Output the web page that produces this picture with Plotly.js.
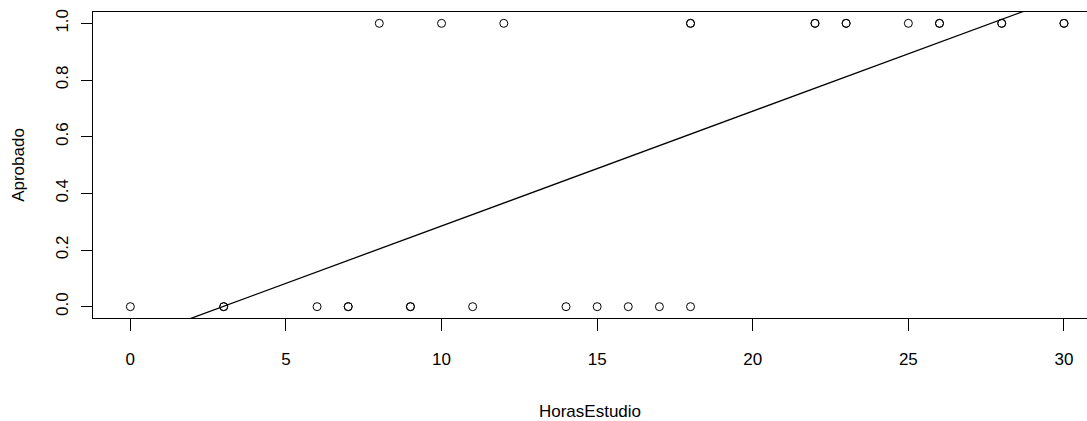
<!DOCTYPE html>
<html>
<head>
<meta charset="utf-8">
<script src="https://cdn.plot.ly/plotly-3.0.1.min.js"></script>
<style>html,body{margin:0;padding:0;background:#fff;}#chart{width:1087px;height:421px;}</style>
</head>
<body>
<div id="chart"></div>
<script>
// Data (duplicated points drawn bolder in the original)
const horasEstudio = [0,3,3,6,7,7,9,9,11,14,15,16,17,18,
                      8,10,12,18,18,22,22,23,23,25,26,26,28,28,30,30];
const aprobado     = [0,0,0,0,0,0,0,0,0,0,0,0,0,0,
                      1,1,1,1,1,1,1,1,1,1,1,1,1,1,1,1];
const xTicks = [0,5,10,15,20,25,30];
const yTicks = [0,0.2,0.4,0.6,0.8,1.0];

const xRange = [-1.2, 30.74];
const yRange = [-0.04, 1.04];

// least-squares fit (abline(lm(Aprobado ~ HorasEstudio)))
const n = horasEstudio.length;
const mx = horasEstudio.reduce((a,b)=>a+b,0)/n;
const my = aprobado.reduce((a,b)=>a+b,0)/n;
let sxy = 0, sxx = 0;
for (let i=0;i<n;i++){ sxy += (horasEstudio[i]-mx)*(aprobado[i]-my); sxx += (horasEstudio[i]-mx)**2; }
const slope = sxy/sxx, intercept = my - slope*mx;
const lineX = [xRange[0]-1, xRange[1]+1];
const lineY = lineX.map(x => intercept + slope*x);

const font = {family: '"Liberation Sans", Arial, sans-serif', size: 17, color: '#000'};

const traces = [
  {x: horasEstudio, y: aprobado, type: 'scatter', mode: 'markers',
   marker: {symbol: 'circle-open', size: 8, color: '#000', line: {width: 1, color: '#000'}},
   hoverinfo: 'skip', showlegend: false},
  {x: lineX, y: lineY, type: 'scatter', mode: 'lines',
   line: {color: '#000', width: 1.3}, hoverinfo: 'skip', showlegend: false}
];

const layout = {
  width: 1087, height: 421,
  margin: {l: 93, r: 0, t: 12, b: 103},
  paper_bgcolor: '#fff', plot_bgcolor: '#fff',
  font: font,
  showlegend: false,
  xaxis: {
    range: xRange, tickvals: xTicks, ticktext: xTicks.map(String),
    ticks: 'outside', ticklen: 12, tickcolor: '#000', tickwidth: 1,
    showline: true, mirror: true, linecolor: '#000', linewidth: 1,
    showgrid: false, zeroline: false, tickfont: font,
    ticklabelstandoff: 14,
    title: {text: 'HorasEstudio', font: font, standoff: 38},
    automargin: false
  },
  yaxis: {
    range: yRange, tickvals: yTicks, ticktext: yTicks.map(v => v.toFixed(1)),
    ticks: 'outside', ticklen: 11, tickcolor: '#000', tickwidth: 1,
    showline: true, mirror: false, linecolor: '#000', linewidth: 1,
    showgrid: false, zeroline: false, tickfont: font, tickangle: -90,
    ticklabelstandoff: 6,
    title: {text: 'Aprobado', font: font, standoff: 24},
    automargin: false
  }
};

Plotly.newPlot('chart', traces, layout, {staticPlot: true, displayModeBar: false});
</script>
</body>
</html>
